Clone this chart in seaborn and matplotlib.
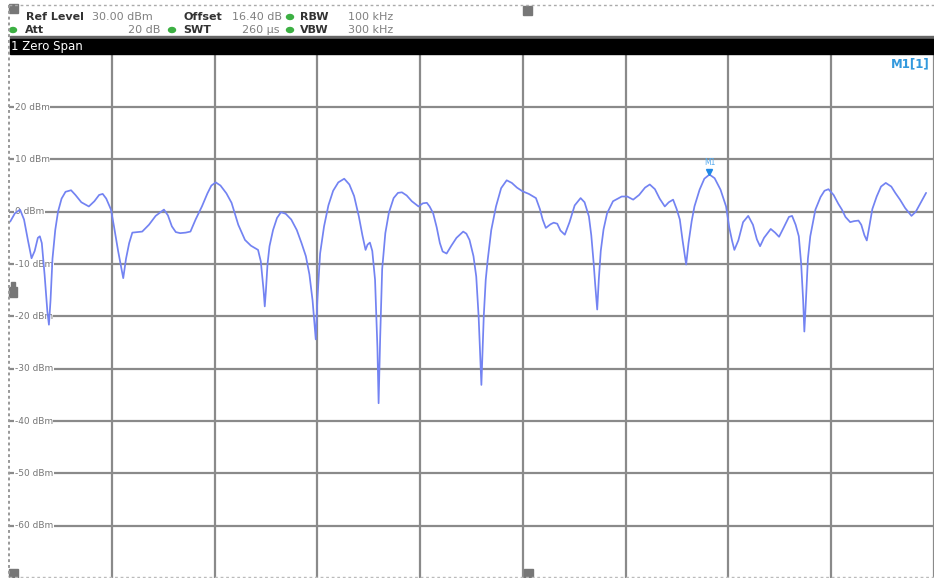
import matplotlib
matplotlib.use("Agg")
import matplotlib.pyplot as plt
import matplotlib.patches as mpatches
import numpy as np
import pandas as pd
import seaborn as sns

# Zero span trace (time in us, level in dBm)
time_us = [0.3, 1.5, 2.8, 3.8, 4.8, 5.7, 6.5, 7.3, 7.8, 8.3,
           9.0, 9.7, 10.1, 10.5, 11.0, 11.7, 12.4, 13.3, 14.3, 15.7,
           16.8, 18.3, 20.2, 21.6, 22.8, 23.7, 24.6, 25.8, 26.6, 27.6,
           28.9, 29.6, 30.4, 31.2, 32.4, 33.7, 35.4, 37.1, 39.2, 40.2,
           41.2, 42.2, 43.3, 44.7, 45.9, 47.2, 48.8, 50.2, 51.2, 52.3,
           53.5, 55.0, 56.3, 58.0, 59.7, 61.2, 63.0, 63.7, 64.4, 64.7,
           65.0, 65.4, 65.9, 66.8, 67.8, 68.8, 70.0, 71.4, 72.8, 74.0,
           75.1, 76.0, 76.8, 77.6, 78.0, 78.7, 79.7, 80.8, 82.0, 83.3,
           84.8, 86.1, 87.3, 88.5, 89.4, 90.2, 90.7, 91.3, 91.9, 92.6,
           93.2, 93.5, 93.9, 94.4, 95.2, 96.1, 97.3, 98.4, 99.4, 100.6,
           101.9, 103.6, 104.7, 105.7, 106.4, 107.3, 108.2, 109.0, 109.7, 110.7,
           111.9, 113.2, 114.9, 115.7, 116.5, 117.5, 118.2, 118.8, 119.5, 120.1,
           120.6, 121.1, 122.0, 123.2, 124.5, 125.9, 127.2, 128.5, 129.9, 131.5,
           133.3, 134.3, 135.0, 135.8, 137.0, 137.8, 138.7, 139.5, 140.6, 141.8,
           143.1, 144.6, 145.6, 146.7, 147.3, 147.9, 148.3, 148.8, 149.2, 149.7,
           150.4, 151.3, 152.8, 155.0, 156.4, 157.9, 159.4, 160.9, 162.1, 163.4,
           164.6, 165.9, 166.9, 168.0, 168.9, 169.7, 170.4, 171.3, 171.9, 172.7,
           173.4, 174.7, 175.9, 177.2, 178.5, 180.0, 181.4, 182.2, 182.9, 183.5,
           184.5, 185.7, 187.0, 188.2, 189.2, 190.0, 191.0, 192.7, 193.8, 194.8,
           196.0, 197.3, 198.1, 199.0, 199.8, 200.4, 200.9, 201.2, 201.6, 202.1,
           202.7, 204.0, 205.3, 206.3, 207.3, 208.6, 209.8, 210.7, 211.6, 212.8,
           213.8, 214.9, 215.6, 216.4, 217.0, 217.6, 218.4, 219.5, 220.6, 221.8,
           223.2, 224.2, 225.4, 226.7, 228.3, 229.4, 230.7, 232.0]
level_dbm = [-1.9, -0.3, 0.4, -1.5, -5.5, -8.9, -7.5, -5.0, -4.7, -6.0,
             -12.0, -19.0, -21.6, -17.0, -9.0, -3.5, 0.0, 2.5, 3.8, 4.1,
             3.2, 1.8, 1.0, 2.0, 3.2, 3.4, 2.5, 0.4, -3.0, -7.5,
             -12.7, -9.0, -6.0, -4.0, -3.9, -3.8, -2.5, -0.8, 0.4, -0.7,
             -2.8, -3.9, -4.1, -4.0, -3.8, -1.5, 1.0, 3.5, 5.0, 5.6,
             5.0, 3.5, 1.7, -2.5, -5.4, -6.5, -7.3, -9.5, -15.0, -18.1,
             -15.0, -10.0, -6.6, -3.5, -1.2, -0.1, -0.4, -1.5, -3.5, -6.0,
             -8.5, -12.0, -17.0, -24.4, -17.0, -8.0, -2.8, 1.2, 4.0, 5.6,
             6.3, 5.2, 3.0, -0.9, -4.5, -7.3, -6.3, -5.9, -7.5, -13.0,
             -26.0, -36.6, -24.0, -11.0, -4.1, -0.2, 2.6, 3.6, 3.7, 3.1,
             2.0, 1.0, 1.6, 1.7, 1.0, -0.3, -3.0, -6.0, -7.6, -8.0,
             -6.5, -5.0, -3.8, -4.2, -5.4, -8.5, -12.4, -20.0, -33.1, -20.0,
             -13.0, -9.2, -3.5, 1.0, 4.5, 6.0, 5.5, 4.6, 3.9, 3.4,
             2.6, 0.5, -1.5, -3.1, -2.4, -2.1, -2.3, -3.6, -4.4, -2.0,
             1.2, 2.6, 1.8, -0.9, -4.5, -9.8, -14.0, -18.7, -13.0, -7.5,
             -3.4, -0.3, 2.0, 2.9, 2.9, 2.3, 3.2, 4.6, 5.2, 4.3,
             2.5, 1.0, 1.8, 2.3, 0.5, -1.5, -5.5, -10.1, -6.0, -1.8,
             1.0, 4.2, 6.3, 7.1, 6.4, 4.2, 1.0, -3.0, -5.5, -7.3,
             -5.5, -2.0, -0.8, -2.5, -5.3, -6.6, -5.0, -3.3, -4.0, -4.8,
             -3.0, -1.0, -0.8, -2.5, -4.7, -10.0, -17.0, -22.9, -17.0, -9.0,
             -4.7, 0.4, 2.8, 4.0, 4.3, 3.2, 1.5, 0.4, -1.0, -2.0,
             -1.8, -1.7, -2.5, -4.5, -5.5, -3.0, 0.5, 2.9, 4.8, 5.5,
             4.8, 3.6, 2.3, 0.7, -0.8, 0.0, 1.8, 3.6]

y_levels = [20, 10, 0, -10, -20, -30, -40, -50, -60]
marker_time = 177.2
marker_level = 7.1

# header texts: (text, x pixel, bold, alignment)
header_line1 = [("Ref Level", 26, True, "left"), ("30.00 dBm", 92, False, "left"),
                ("Offset", 183, True, "left"), ("16.40 dB", 232, False, "left"),
                ("RBW", 300, True, "left"), ("100 kHz", 348, False, "left")]
header_line2 = [("Att", 25, True, "left"), ("20 dB", 160, False, "right"),
                ("SWT", 183, True, "left"), ("260 µs", 279, False, "right"),
                ("VBW", 300, True, "left"), ("300 kHz", 348, False, "left")]

W, H = 934, 578
sns.set_style("white")
fig = plt.figure(figsize=(W / 100, H / 100), dpi=100)

# main trace area: 10 divisions of 26 us, right part cut off by the screenshot
x0, y_top = 9, 54.7
div_px = 103.6
ax = fig.add_axes([x0 / W, 0, (W - x0) / W, (H - y_top) / H])
ax.set_xlim(0, (W - x0) / div_px * 26)
ax.set_ylim(-70, 30)
ax.set_xticks(np.arange(26, 240, 26))
ax.set_yticks(y_levels)
ax.grid(True, color="#8a8a8a", linewidth=1.6)
ax.tick_params(left=False, bottom=False, labelleft=False, labelbottom=False)
for s in ax.spines.values():
    s.set_visible(False)

df = pd.DataFrame({"time": time_us, "level": level_dbm})
sns.lineplot(data=df, x="time", y="level", ax=ax, color="#7383f2", linewidth=1.25, zorder=4)

for lv in y_levels:
    ax.text(0.006, lv, f"{lv} dBm", transform=ax.get_yaxis_transform(), fontsize=6.5,
            color="#777777", va="center", ha="left", zorder=3,
            bbox=dict(facecolor="white", edgecolor="none", pad=0.6))

ax.plot([marker_time], [marker_level + 0.5], marker="v", markersize=5, color="#1e88e5", zorder=5)
ax.text(marker_time, marker_level + 1.4, "M1", fontsize=5.5, color="#55aaee", ha="center",
        va="bottom", zorder=5)

# overlay in pixel coordinates for the instrument header and frame
ov = fig.add_axes([0, 0, 1, 1], zorder=10)
ov.set_xlim(0, W)
ov.set_ylim(H, 0)
ov.axis("off")
ov.patch.set_alpha(0)

ov.plot([9, W], [5, 5], color="#aaaaaa", linestyle=(0, (2, 2)), linewidth=1)
ov.plot([9, W], [577, 577], color="#bbbbbb", linestyle=(0, (2, 2)), linewidth=1)
ov.plot([9, 9], [5, 577], color="#999999", linestyle=(0, (1.5, 1.5)), linewidth=1.4)

for (sx, sy, sw, sh) in [(9, 4, 9, 9), (523, 6, 9, 9), (9, 569, 9, 9), (524, 569, 9, 9)]:
    ov.add_patch(mpatches.Rectangle((sx, sy), sw, sh, color="#777777"))
ov.add_patch(mpatches.Rectangle((9, 287), 8, 10, color="#777777"))
ov.add_patch(mpatches.Rectangle((11, 282), 4, 6, color="#777777"))

for line_y, items in [(17, header_line1), (30, header_line2)]:
    for text, x, bold, ha in items:
        ov.text(x, line_y, text, fontsize=8, fontweight="bold" if bold else "normal",
                color="#333333" if bold else "#808080", va="center", ha=ha)
for gx, gy in [(290, 17), (13, 30), (172, 30), (290, 30)]:
    ov.add_patch(mpatches.Ellipse((gx, gy), 7, 5, color="#3cb043"))

ov.add_patch(mpatches.Rectangle((10, 36), W - 10, 4, color="#666666"))
ov.add_patch(mpatches.Rectangle((10, 39), W - 10, 15, color="black"))
ov.text(11, 46.5, "1 Zero Span", fontsize=8.5, color="white", va="center", ha="left")
ov.text(930, 64, "M1[1]", fontsize=8.5, fontweight="bold", color="#3399dd", va="center", ha="right")

fig.savefig("out.png", dpi=100)
